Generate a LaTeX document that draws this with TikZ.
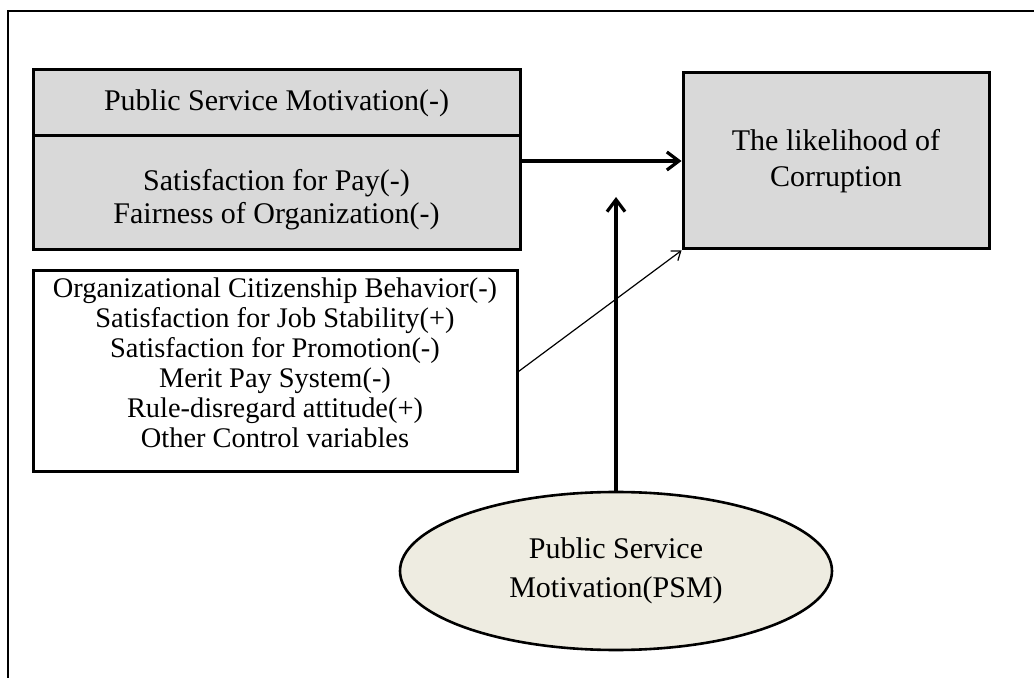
\documentclass[tikz,border=0pt]{standalone}
\usepackage{fontspec}
\setmainfont{Liberation Serif}
\usetikzlibrary{arrows.meta,shapes.geometric}

\definecolor{boxgray}{HTML}{D9D9D9}
\definecolor{psmtan}{HTML}{EEECE1}

\tikzset{
  grayblock/.style={draw, line width=1.5pt, fill=boxgray, inner sep=0pt, align=center,
    font=\fontsize{15}{16.5}\selectfont},
  ctrlblock/.style={draw, line width=1.5pt, fill=white, inner sep=0pt, align=center,
    font=\fontsize{14.2}{15}\selectfont},
  psmblock/.style={ellipse, draw, line width=1.3pt, fill=psmtan, inner sep=0pt, align=center,
    font=\fontsize{15}{19.5}\selectfont},
  thickarrow/.style={-{Straight Barb[length=6pt, width=9pt, line width=1.6pt]}, line width=1.6pt},
  thinarrow/.style={-{Straight Barb[length=4pt, width=6pt]}, line width=0.6pt}
}

\begin{document}
\begin{tikzpicture}[x=0.5pt, y=-0.5pt]
  \useasboundingbox (0,0) rectangle (1034,678);
  % Khung ngoài
  \draw[line width=1pt] (8,700) -- (8,11) -- (1050,11);
  % Các khối biến độc lập
  \node[grayblock, minimum width=243.5pt, minimum height=33pt] (psmneg) at (276.5,103)
    {Public Service Motivation(-)};
  \node[grayblock, minimum width=243.5pt, minimum height=57pt, text height=33.8pt] (satis) at (276.5,193)
    {Satisfaction for Pay(-)\\Fairness of Organization(-)};
  \node[ctrlblock, minimum width=242pt, minimum height=100.5pt, text depth=9pt] (ctrl) at (275,371.5)
    {Organizational Citizenship Behavior(-)\\Satisfaction for Job Stability(+)\\
     Satisfaction for Promotion(-)\\Merit Pay System(-)\\
     Rule-disregard attitude(+)\\Other Control variables};
  % Biến phụ thuộc
  \node[grayblock, minimum width=153pt, minimum height=88pt,
        font=\fontsize{15}{18}\selectfont] (dv) at (836,161)
    {The likelihood of\\Corruption};
  % Biến điều tiết
  \node[psmblock, minimum width=216pt, minimum height=79pt] (psm) at (616,571)
    {Public Service\\Motivation(PSM)};
  \coordinate (tip) at (616,197);
  % Các mũi tên
  \draw[thickarrow] (satis.east |- dv.west) -- (dv.west);
  \draw[thickarrow] (psm.north) -- (tip);
  \draw[thinarrow] (ctrl.east) -- (dv.south west);
\end{tikzpicture}
\end{document}
